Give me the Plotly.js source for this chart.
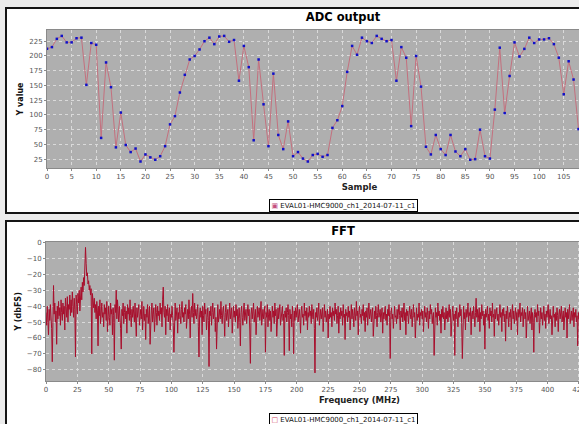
<!DOCTYPE html>
<html>
<head>
<meta charset="utf-8">
<script src="https://cdn.plot.ly/plotly-3.0.1.min.js"></script>
<style>
html,body{margin:0;padding:0;width:579px;height:424px;overflow:hidden;background:#ececec;}
.panel{position:absolute;left:5px;width:672px;border:2px solid #151515;background:#fff;overflow:hidden;}
#p1{top:7px;height:203px;}
#p2{top:220px;height:220px;}
#adc,#fft{width:672px;}
</style>
</head>
<body>
<div class="panel" id="p1"><div id="adc"></div></div>
<div class="panel" id="p2"><div id="fft"></div></div>
<script>
// ---- data ----
const seriesName = "EVAL01-HMC9000_ch1_2014-07-11_c1";

const adcValues = [
  212,215,229,234,223,223,230,231,151,222,
  219,61,189,147,45,104,49,37,43,21,
  33,28,24,30,47,84,98,138,168,194,
  200,211,225,231,220,233,234,224,227,158,
  217,181,57,194,118,47,170,66,42,89,
  30,37,26,21,32,34,29,32,78,91,
  115,173,217,202,231,225,222,234,229,225,
  227,158,215,197,81,200,148,46,33,66,
  42,32,66,38,30,42,24,25,75,30,
  26,109,214,103,166,223,199,212,231,222,
  228,228,230,220,197,135,191,160,76
];

const fftBinMHz = 0.5;   // frequency step between FFT bins
const fftDbfs = [
  -44,-52,-40,-47,-58,-42,-49,-39,-46,-54,-75,-41,-27,-45,-38,-50,-43,-64,-40,-48,
  -37,-46,-41,-52,-36,-44,-49,-38,-45,-40,-55,-35,-43,-47,-34,-50,-39,-42,-33,-46,
  -36,-44,-31,-40,-47,-35,-42,-72,-33,-39,-45,-32,-38,-30,-43,-34,-28,-36,-25,-31,
  -22,-27,-17,-3,-13,-21,-19,-26,-24,-30,-27,-33,-29,-70,-32,-38,-41,-35,-44,-39,
  -48,-37,-43,-65,-40,-46,-36,-51,-42,-38,-47,-44,-53,-39,-45,-41,-49,-37,-56,-43,
  -40,-47,-52,-38,-45,-42,-58,-41,-46,-74,-39,-44,-30,-48,-36,-43,-50,-40,-45,-54,
  -67,-42,-46,-38,-51,-44,-40,-48,-43,-57,-39,-45,-41,-49,-36,-46,-53,-42,-47,-40,
  -44,-50,-38,-45,-59,-41,-47,-43,-39,-52,-46,-42,-48,-37,-55,-44,-40,-49,-45,-61,
  -42,-47,-39,-51,-44,-40,-64,-46,-43,-38,-50,-45,-41,-56,-47,-39,-44,-52,-40,-46,
  -43,-49,-38,-45,-41,-53,-36,-28,-44,-47,-40,-58,-42,-46,-39,-50,-44,-41,-55,-45,
  -47,-40,-46,-52,-69,-43,-38,-49,-45,-41,-57,-44,-48,-39,-46,-51,-42,-37,-47,-44,
  -50,-41,-45,-39,-54,-46,-42,-48,-36,-45,-60,-43,-40,-47,-32,-44,-51,-38,-46,-42,
  -48,-44,-39,-53,-72,-45,-41,-47,-43,-58,-40,-46,-50,-38,-45,-42,-55,-47,-41,-49,
  -78,-43,-46,-40,-52,-44,-38,-48,-45,-41,-56,-47,-67,-43,-39,-50,-45,-42,-48,-37,
  -46,-51,-43,-40,-47,-59,-44,-39,-49,-45,-42,-53,-46,-38,-48,-44,-41,-57,-45,-40,
  -47,-43,-50,-39,-46,-42,-54,-45,-41,-48,-65,-44,-40,-47,-52,-43,-38,-49,-45,-42,
  -51,-44,-39,-46,-42,-55,-76,-45,-41,-48,-43,-38,-50,-46,-42,-58,-44,-40,-47,-45,
  -41,-49,-44,-37,-52,-46,-42,-48,-45,-40,-69,-44,-47,-39,-53,-45,-42,-49,-43,-56,
  -44,-40,-47,-43,-51,-38,-46,-42,-59,-45,-41,-48,-44,-39,-52,-46,-43,-40,-49,-45,
  -71,-43,-47,-41,-50,-44,-39,-46,-68,-42,-48,-45,-53,-40,-46,-70,-43,-49,-41,-47,
  -44,-39,-50,-45,-42,-48,-57,-43,-40,-47,-45,-52,-38,-46,-43,-49,-41,-55,-44,-47,
  -40,-46,-43,-51,-39,-45,-48,-42,-54,-82,-44,-47,-41,-49,-45,-38,-52,-46,-42,-48,
  -45,-41,-56,-44,-39,-47,-43,-50,-46,-42,-60,-45,-48,-40,-47,-44,-53,-41,-46,-43,
  -49,-38,-45,-42,-51,-46,-40,-57,-44,-48,-41,-46,-43,-52,-39,-47,-45,-61,-42,-46,
  -44,-50,-40,-47,-43,-55,-45,-39,-48,-42,-46,-53,-41,-45,-49,-37,-46,-43,-58,-44,
  -40,-47,-45,-51,-42,-46,-39,-49,-44,-56,-43,-47,-41,-52,-45,-38,-48,-44,-42,-50,
  -46,-41,-59,-45,-43,-48,-40,-46,-53,-44,-39,-47,-45,-42,-50,-46,-41,-57,-44,-48,
  -43,-40,-49,-45,-52,-42,-46,-39,-47,-73,-44,-41,-48,-45,-54,-43,-40,-47,-46,-51,
  -42,-48,-44,-39,-46,-55,-43,-47,-41,-50,-45,-38,-49,-44,-58,-42,-46,-43,-51,-47,
  -40,-45,-48,-42,-53,-46,-39,-47,-44,-60,-43,-41,-49,-45,-47,-38,-52,-44,-46,-42,
  -48,-43,-56,-45,-40,-47,-44,-50,-41,-46,-54,-43,-48,-39,-45,-42,-51,-46,-44,-71,
  -45,-41,-47,-44,-52,-38,-46,-43,-49,-45,-57,-42,-47,-40,-48,-44,-55,-46,-41,-48,
  -43,-50,-45,-39,-47,-42,-59,-46,-44,-40,-49,-45,-71,-43,-48,-41,-46,-53,-44,-47,
  -39,-46,-42,-51,-73,-45,-40,-48,-44,-55,-42,-47,-45,-38,-50,-44,-46,-41,-58,-45,
  -43,-48,-40,-46,-53,-44,-35,-47,-42,-50,-45,-41,-56,-44,-48,-39,-46,-43,-52,-45,
  -67,-42,-47,-44,-40,-49,-45,-54,-41,-46,-43,-50,-38,-47,-45,-59,-42,-48,-44,-41,
  -49,-45,-52,-43,-39,-47,-44,-56,-42,-46,-41,-50,-45,-62,-43,-48,-40,-46,-53,-44,
  -47,-42,-55,-45,-39,-48,-43,-51,-46,-41,-49,-44,-58,-42,-47,-45,-38,-50,-44,-46,
  -41,-53,-45,-42,-48,-44,-60,-46,-40,-49,-45,-43,-51,-47,-41,-55,-44,-48,-69,-45,
  -42,-47,-44,-50,-39,-46,-43,-57,-45,-41,-48,-44,-52,-46,-40,-49,-45,-54,-43,-47,
  -44,-39,-51,-45,-42,-48,-46,-58,-43,-40,-47,-45,-53,-44,-49,-41,-46,-56,-45,-42,
  -48,-44,-40,-50,-46,-43,-55,-45,-41,-47,-44,-60,-42,-48,-45,-39,-51,-46,-43,-49,
  -45,-41,-53,-44,-47,-42,-50,-46,-65,-44,-48,-43,-46
];

const adcTicksX = [0,5,10,15,20,25,30,35,40,45,50,55,60,65,70,75,80,85,90,95,100,105];
const adcTicksY = [25,50,75,100,125,150,175,200,225];
const fftTicksY = [0,-10,-20,-30,-40,-50,-60,-70,-80];

// ---- derived x positions ----
const adcSamples = adcValues.map((v,i)=>i);
const fftFreq = fftDbfs.map((v,i)=>i*fftBinMHz);

const FONT = "DejaVu Sans";
const tickFont = {family: FONT, size: 7, color: "#555"};
const gridCol = "#dadada";

function axisX(range, ticks, title){
  const ax = {range: range, showgrid: true, gridcolor: gridCol, griddash: "dot", gridwidth: 1,
    zeroline: false, showline: true, linecolor: "#8a8a8a", linewidth: 1, mirror: true,
    ticks: "outside", ticklen: 2, tickcolor: "#8a8a8a", tickfont: tickFont, automargin: false,
    title: {text: title, font: {family: FONT, size: 8.5, color: "#222", weight: "bold"}, standoff: 3}};
  if (Array.isArray(ticks)) { ax.tickvals = ticks; } else { ax.dtick = ticks; ax.tick0 = 0; }
  return ax;
}
function axisY(range, tickvals, title){
  return {range: range, tickvals: tickvals, showgrid: true, gridcolor: gridCol, griddash: "dot", gridwidth: 1,
    zeroline: false, showline: true, linecolor: "#8a8a8a", linewidth: 1, mirror: true,
    ticks: "outside", ticklen: 2, tickcolor: "#8a8a8a", tickfont: tickFont, automargin: false,
    title: {text: title, font: {family: FONT, size: 8, color: "#111", weight: "bold"}, standoff: 4}};
}

const cfg = {staticPlot: true, displayModeBar: false};

Plotly.newPlot("adc", [{
  x: adcSamples, y: adcValues, type: "scatter", mode: "lines+markers", name: seriesName,
  line: {color: "#c4707e", width: 1},
  marker: {symbol: "square", size: 2.5, color: "#1010c8"},
  showlegend: false, cliponaxis: true
}], {
  width: 672, height: 203,
  margin: {l: 40, r: 7, t: 21, b: 44},
  paper_bgcolor: "#ffffff", plot_bgcolor: "#afafaf",
  title: {text: "ADC output", font: {family: FONT, size: 11.5, color: "#000", weight: "bold"}, x: 0.5, xref: "container", y: 0.96, yanchor: "middle"},
  xaxis: axisX([0,127], adcTicksX, "Sample"),
  yaxis: axisY([10,244], adcTicksY, "Y value"),
  annotations: [{
    xref: "paper", yref: "paper", x: 0.474, y: -0.2736, xanchor: "center", yanchor: "middle",
    text: '<span style="color:#c4507e">▣</span> ' + seriesName, showarrow: false,
    font: {family: FONT, size: 7, color: "#111"},
    bordercolor: "#000", borderwidth: 1, borderpad: 1.5, bgcolor: "#fff"
  }]
}, cfg);

Plotly.newPlot("fft", [{
  x: fftFreq, y: fftDbfs, type: "scatter", mode: "lines", name: seriesName,
  line: {color: "#a80e2c", width: 1},
  showlegend: false
}], {
  width: 672, height: 220,
  margin: {l: 39, r: 6, t: 20, b: 61},
  paper_bgcolor: "#ffffff", plot_bgcolor: "#afafaf",
  title: {text: "FFT", font: {family: FONT, size: 11.5, color: "#000", weight: "bold"}, x: 0.5, xref: "container", y: 0.96, yanchor: "middle"},
  xaxis: axisX([0,500], 25, "Frequency (MHz)"),
  yaxis: axisY([-87.1,0.4], fftTicksY, "Y (dbFS)"),
  annotations: [{
    xref: "paper", yref: "paper", x: 0.4737, y: -0.2788, xanchor: "center", yanchor: "middle",
    text: '<span style="color:#d04060">□</span> ' + seriesName, showarrow: false,
    font: {family: FONT, size: 7, color: "#111"},
    bordercolor: "#000", borderwidth: 1, borderpad: 1.5, bgcolor: "#fff"
  }]
}, cfg);
</script>
</body>
</html>
